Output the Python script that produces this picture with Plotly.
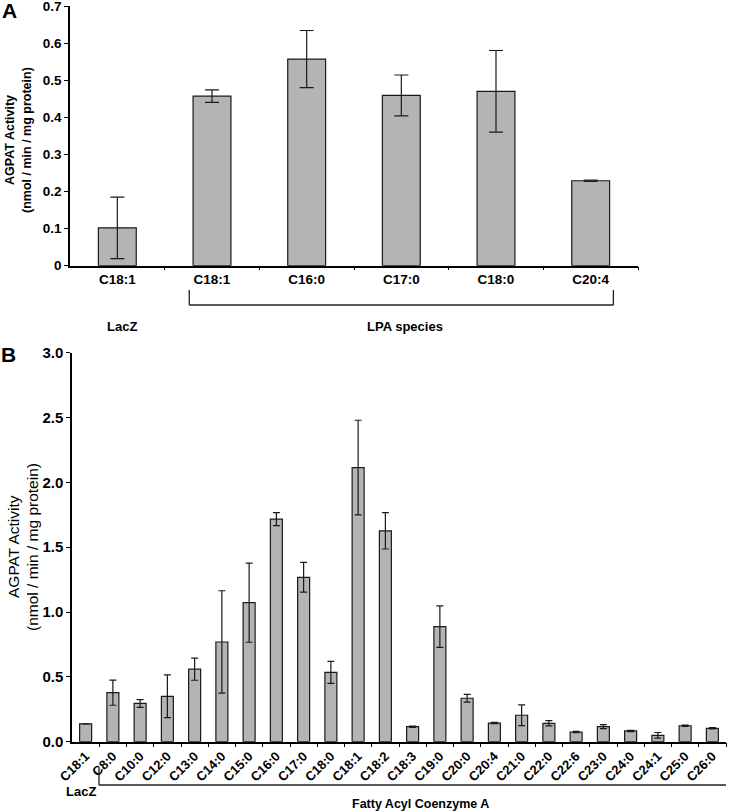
import plotly.graph_objects as go

# ---------------- Panel A data ----------------
a_labels = ["C18:1", "C18:1", "C16:0", "C17:0", "C18:0", "C20:4"]
a_values = [0.102, 0.457, 0.557, 0.459, 0.470, 0.229]
a_errors = [0.083, 0.017, 0.077, 0.055, 0.110, 0.002]
a_ticks = [0, 0.1, 0.2, 0.3, 0.4, 0.5, 0.6, 0.7]

# ---------------- Panel B data ----------------
b_labels = ["C18:1", "C8:0", "C10:0", "C12:0", "C13:0", "C14:0", "C15:0", "C16:0",
            "C17:0", "C18:0", "C18:1", "C18:2", "C18:3", "C19:0", "C20:0", "C20:4",
            "C21:0", "C22:0", "C22:6", "C23:0", "C24:0", "C24:1", "C25:0", "C26:0"]
b_values = [0.137, 0.378, 0.295, 0.350, 0.559, 0.769, 1.072, 1.716,
            1.268, 0.535, 2.114, 1.626, 0.116, 0.887, 0.335, 0.144,
            0.204, 0.142, 0.075, 0.116, 0.083, 0.049, 0.123, 0.103]
b_errors = [0.0, 0.097, 0.030, 0.165, 0.085, 0.395, 0.305, 0.050,
            0.115, 0.085, 0.365, 0.140, 0.005, 0.160, 0.030, 0.005,
            0.080, 0.020, 0.005, 0.015, 0.005, 0.022, 0.005, 0.005]
b_ticks = [0.0, 0.5, 1.0, 1.5, 2.0, 2.5, 3.0]

W, H = 747, 812
NARROW = "Liberation Sans Narrow, Arial Narrow, Liberation Sans, Arial, sans-serif"
ARIAL = "Liberation Sans, Arial, sans-serif"
BAR = "#b4b4b4"
EDGE = "#1a1a1a"


def px(x):
    return x / W


def py(y):
    return 1 - y / H


a_x = list(range(len(a_labels)))
b_x = list(range(len(b_labels)))

fig = go.Figure()
fig.add_trace(go.Bar(
    x=a_x, y=a_values, width=0.4, xaxis="x", yaxis="y",
    marker=dict(color=BAR, line=dict(color=EDGE, width=1.2)),
    error_y=dict(type="data", array=a_errors, color=EDGE, thickness=1.2, width=7),
    showlegend=False, hoverinfo="skip"))
fig.add_trace(go.Bar(
    x=b_x, y=b_values, width=0.44, xaxis="x2", yaxis="y2",
    marker=dict(color=BAR, line=dict(color=EDGE, width=1.2)),
    error_y=dict(type="data", array=b_errors, color=EDGE, thickness=1.2, width=3.5),
    showlegend=False, hoverinfo="skip"))

fig.update_layout(
    template="none",
    width=W, height=H, autosize=False,
    margin=dict(l=0, r=0, t=0, b=0, pad=0),
    paper_bgcolor="white", plot_bgcolor="white",
    xaxis=dict(
        domain=[px(70), px(638)], anchor="y", range=[-0.5, len(a_labels) - 0.5],
        automargin=False, ticklabeloverflow="allow",
        tickmode="array", tickvals=a_x, ticktext=a_labels, ticks="", ticklen=0,
        tickfont=dict(family=NARROW, size=13.5, color="black", weight="bold"),
        showline=True, linecolor="black", linewidth=1.5, showgrid=False, zeroline=False,
        minor=dict(tickmode="array", tickvals=[i + 0.5 for i in a_x[:-1]] + [len(a_labels) - 0.5],
                   ticks="outside", ticklen=3, tickcolor="black", tickwidth=1.2, showgrid=False),
    ),
    yaxis=dict(
        domain=[py(265.7), py(6)], anchor="x", range=[0, 0.7],
        automargin=False, ticklabeloverflow="allow",
        tickmode="array", tickvals=a_ticks, ticktext=["0"] + [f"{v:.1f}" for v in a_ticks[1:]],
        ticks="outside", ticklen=4, tickwidth=1.2, tickcolor="black",
        tickfont=dict(family=NARROW, size=13.5, color="black", weight="bold"),
        showline=True, linecolor="black", linewidth=1.5, showgrid=False, zeroline=False,
    ),
    xaxis2=dict(
        domain=[px(72), px(726)], anchor="y2", range=[-0.5, len(b_labels) - 0.5],
        automargin=False, ticklabeloverflow="allow",
        tickmode="array", tickvals=b_x, ticktext=b_labels, ticks="", ticklen=0,
        tickangle=-45,
        tickfont=dict(family=ARIAL, size=13, color="black", weight="bold"),
        showline=True, linecolor="black", linewidth=1.5, showgrid=False, zeroline=False,
        minor=dict(tickmode="array", tickvals=[i + 0.5 for i in b_x],
                   ticks="outside", ticklen=4, tickcolor="black", tickwidth=1.2, showgrid=False),
    ),
    yaxis2=dict(
        domain=[py(741.7), py(352.7)], anchor="x2", range=[0, 3.0],
        automargin=False, ticklabeloverflow="allow",
        tickmode="array", tickvals=b_ticks, ticktext=[f"{v:.1f}" for v in b_ticks],
        ticks="outside", ticklen=4, tickwidth=1.2, tickcolor="black",
        tickfont=dict(family=ARIAL, size=15, color="black", weight="bold"),
        showline=True, linecolor="black", linewidth=1.5, showgrid=False, zeroline=False,
    ),
)

line = dict(color="#222", width=1.3)
shapes = [
    # Panel A bracket
    dict(type="line", xref="x", yref="paper", x0=0.76, x1=0.76, y0=py(290), y1=py(305), line=line),
    dict(type="line", xref="x", yref="paper", x0=0.76, x1=5.24, y0=py(305), y1=py(305), line=line),
    dict(type="line", xref="x", yref="paper", x0=5.24, x1=5.24, y0=py(290), y1=py(305), line=line),
    # Panel B bracket
    dict(type="line", xref="x2", yref="paper", x0=0.49, x1=0.49, y0=py(767), y1=py(785), line=line),
    dict(type="line", xref="x2", yref="paper", x0=0.49, x1=24.2, y0=py(785), y1=py(785), line=line),
    dict(type="line", xref="x2", yref="paper", x0=24.2, x1=24.2, y0=py(777), y1=py(785), line=line),
]
fig.update_layout(shapes=shapes)

annots = [
    dict(text="A", x=px(9), y=py(11), font=dict(family=ARIAL, size=21, weight="bold")),
    dict(text="B", x=px(8), y=py(354), font=dict(family=ARIAL, size=21, weight="bold")),
    dict(text="LacZ", x=px(122), y=py(326), font=dict(family=NARROW, size=13, weight="bold")),
    dict(text="LPA species", x=px(405), y=py(326), font=dict(family=NARROW, size=13, weight="bold")),
    dict(text="LacZ", x=px(81), y=py(791), font=dict(family=NARROW, size=13, weight="bold")),
    dict(text="Fatty Acyl Coenzyme A", x=px(420), y=py(804), font=dict(family=ARIAL, size=12.5, weight="bold")),
    # y-axis titles
    dict(text="AGPAT Activity", x=px(10), y=py(140), textangle=-90,
         font=dict(family=ARIAL, size=12.5, weight="bold")),
    dict(text="(nmol / min / mg protein)", x=px(27), y=py(140), textangle=-90,
         font=dict(family=ARIAL, size=12.5, weight="bold")),
    dict(text="AGPAT Activity", x=px(13), y=py(547), textangle=-90,
         font=dict(family=ARIAL, size=15.5)),
    dict(text="(nmol / min / mg protein)", x=px(32), y=py(547), textangle=-90,
         font=dict(family=ARIAL, size=15.5)),
]
for a in annots:
    a.update(xref="paper", yref="paper", showarrow=False, xanchor="center", yanchor="middle")
    a["font"]["color"] = "black"
fig.update_layout(annotations=annots)

fig.write_html(
    "out.html",
    config={"displayModeBar": False},
    post_script="document.body.style.margin='0';document.body.style.padding='0';"
                "document.body.style.overflow='hidden';",
)
